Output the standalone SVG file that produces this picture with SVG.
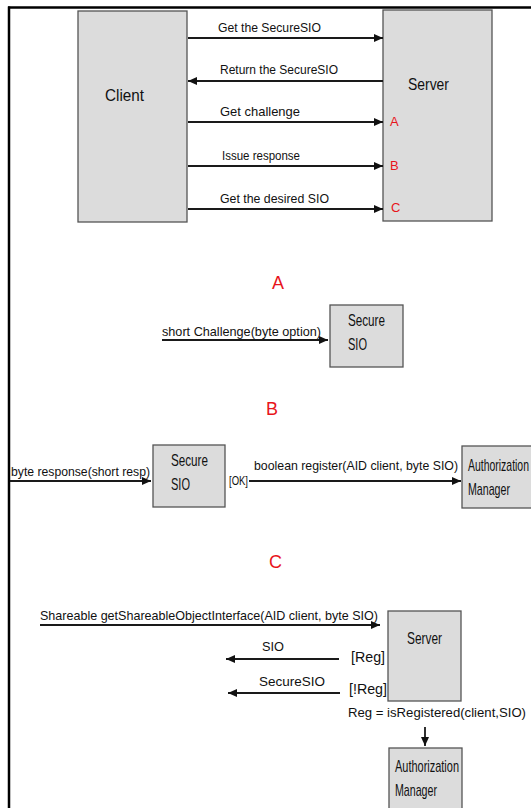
<svg xmlns="http://www.w3.org/2000/svg" width="531" height="808" viewBox="0 0 531 808">
<defs>
<marker id="ah" markerWidth="10" markerHeight="10" refX="9" refY="5" orient="auto" markerUnits="userSpaceOnUse">
<path d="M0,1 L9,5 L0,9 Z" fill="#111"/>
</marker>
<style>
.box{fill:#dcdcdc;stroke:#555;stroke-width:1.3}
.ln{stroke:#1a1a1a;stroke-width:1.8;fill:none;marker-end:url(#ah)}
text{font-family:"Liberation Sans",Arial,sans-serif;fill:#111}
.s{font-size:13px}
.m{font-size:15px}
.b{font-size:17px}
.big{font-size:17px}
.red{fill:#e8141b}
.sec{font-size:18px;fill:#e8141b}
</style>
</defs>
<rect width="531" height="808" fill="#fff"/>
<g id="frame">
<line x1="8" y1="7.5" x2="531" y2="7.5" stroke="#000" stroke-width="2.5"/>
<line x1="9" y1="6.5" x2="9" y2="808" stroke="#000" stroke-width="2.5"/>
</g>
<g id="client"><rect class="box" x="78" y="11" width="109" height="211"/><text class="big" x="105" y="101" textLength="39" lengthAdjust="spacingAndGlyphs">Client</text></g>
<g id="server"><rect class="box" x="383" y="10" width="109" height="211"/><text class="big" x="408" y="90" textLength="41" lengthAdjust="spacingAndGlyphs">Server</text>
<text class="s red" x="390" y="126">A</text><text class="s red" x="390" y="170">B</text><text class="s red" x="391" y="212">C</text></g>
<g id="secureA"><rect class="box" x="330" y="305" width="73" height="62"/><text class="b" x="348" y="326" textLength="37" lengthAdjust="spacingAndGlyphs">Secure</text><text class="b" x="348" y="350" textLength="19" lengthAdjust="spacingAndGlyphs">SIO</text></g>
<g id="secureB"><rect class="box" x="153" y="445" width="72" height="62"/><text class="b" x="171" y="466" textLength="37" lengthAdjust="spacingAndGlyphs">Secure</text><text class="b" x="171" y="490" textLength="19" lengthAdjust="spacingAndGlyphs">SIO</text></g>
<g id="authB"><rect class="box" x="462" y="446" width="72" height="62"/><text class="b" x="468" y="471" textLength="61" lengthAdjust="spacingAndGlyphs">Authorization</text><text class="b" x="468" y="495" textLength="42" lengthAdjust="spacingAndGlyphs">Manager</text></g>
<g id="serverC"><rect class="box" x="388" y="611" width="73" height="90"/><text class="b" x="407" y="644" textLength="35" lengthAdjust="spacingAndGlyphs">Server</text></g>
<g id="authC"><rect class="box" x="389" y="748" width="73" height="64"/><text class="b" x="395" y="772" textLength="64" lengthAdjust="spacingAndGlyphs">Authorization</text><text class="b" x="395" y="796" textLength="42" lengthAdjust="spacingAndGlyphs">Manager</text></g>
<g id="connectors">
<line class="ln" x1="188" y1="38" x2="383" y2="38"/>
<line class="ln" x1="383" y1="81" x2="188" y2="81"/>
<line class="ln" x1="188" y1="122" x2="383" y2="122"/>
<line class="ln" x1="188" y1="166" x2="383" y2="166"/>
<line class="ln" x1="188" y1="209" x2="383" y2="209"/>
<line class="ln" x1="162" y1="340" x2="328" y2="340"/>
<line class="ln" x1="10" y1="481" x2="151" y2="481"/>
<line class="ln" x1="249" y1="481" x2="461" y2="481"/>
<line class="ln" x1="40" y1="625" x2="380" y2="625"/>
<line class="ln" x1="339" y1="659" x2="226" y2="659"/>
<line class="ln" x1="340" y1="693" x2="228" y2="693"/>
<line class="ln" x1="425" y1="727" x2="425" y2="746"/>
</g>
<g id="labels">
<text class="s" x="218" y="32" textLength="103" lengthAdjust="spacingAndGlyphs">Get the SecureSIO</text>
<text class="s" x="220" y="74" textLength="118" lengthAdjust="spacingAndGlyphs">Return the SecureSIO</text>
<text class="s" x="220" y="116" textLength="80" lengthAdjust="spacingAndGlyphs">Get challenge</text>
<text class="s" x="222" y="160" textLength="78" lengthAdjust="spacingAndGlyphs">Issue response</text>
<text class="s" x="220" y="203" textLength="109" lengthAdjust="spacingAndGlyphs">Get the desired SIO</text>
<text class="sec" x="272" y="289">A</text>
<text class="s" x="162" y="336" textLength="159" lengthAdjust="spacingAndGlyphs">short Challenge(byte option)</text>
<text class="sec" x="266" y="415">B</text>
<text class="s" x="11" y="476" textLength="139" lengthAdjust="spacingAndGlyphs">byte response(short resp)</text>
<text class="s" x="229" y="485" textLength="19" lengthAdjust="spacingAndGlyphs">[OK]</text>
<text class="s" x="254" y="470" textLength="204" lengthAdjust="spacingAndGlyphs">boolean register(AID client, byte SIO)</text>
<text class="sec" x="269" y="568">C</text>
<text class="s" x="40" y="620" textLength="338" lengthAdjust="spacingAndGlyphs">Shareable getShareableObjectInterface(AID client, byte SIO)</text>
<text class="s" x="262" y="651" textLength="22" lengthAdjust="spacingAndGlyphs">SIO</text>
<text class="m" x="351" y="662" textLength="34" lengthAdjust="spacingAndGlyphs">[Reg]</text>
<text class="s" x="259" y="686" textLength="66" lengthAdjust="spacingAndGlyphs">SecureSIO</text>
<text class="m" x="349" y="694" textLength="38" lengthAdjust="spacingAndGlyphs">[!Reg]</text>
<text class="s" x="348" y="717" textLength="178" lengthAdjust="spacingAndGlyphs">Reg =  isRegistered(client,SIO)</text>
</g>
</svg>
